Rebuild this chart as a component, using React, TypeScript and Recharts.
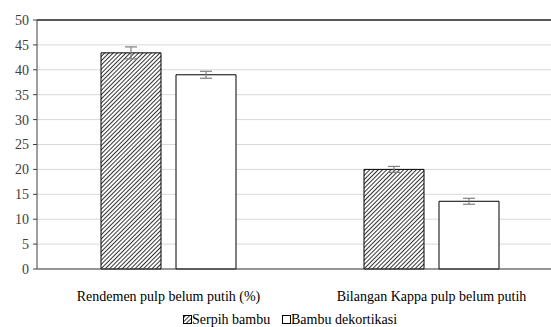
import { BarChart, Bar, XAxis, YAxis, CartesianGrid, ReferenceLine, ErrorBar, Legend } from 'recharts'

const categories = ['Rendemen pulp belum putih (%)', 'Bilangan Kappa pulp belum putih']
const serpihValues = [43.4, 20.0]
const serpihErrors = [1.2, 0.6]
const dekortikasiValues = [39.0, 13.6]
const dekortikasiErrors = [0.7, 0.6]
const yTicks = [0, 5, 10, 15, 20, 25, 30, 35, 40, 45, 50]

const chartData = categories.map((name, i) => ({
  name,
  serpih: serpihValues[i],
  serpihErr: serpihErrors[i],
  dekortikasi: dekortikasiValues[i],
  dekortikasiErr: dekortikasiErrors[i],
}))

const font = 'Liberation Serif, Times New Roman, serif'

// legend drawn as svg text so it uses the same font path as the axis labels
const LegendContent = () => (
  <svg width={563} height={26}>
    <rect x={183.5} y={14.5} width={8} height={8} fill="url(#hatch)" stroke="#000" />
    <text x={192} y={23} fontFamily={font} fontSize={14} fill="#000">Serpih bambu</text>
    <rect x={282.5} y={14.5} width={8} height={8} fill="#fff" stroke="#000" />
    <text x={291} y={23} fontFamily={font} fontSize={14} fill="#000">Bambu dekortikasi</text>
  </svg>
)

export default function App() {
  return (
    <div style={{ position: 'absolute', left: 0, top: 0, width: 551, height: 327, overflow: 'hidden', background: '#fff' }}>
      <BarChart
        width={566}
        height={327}
        data={chartData}
        margin={{ top: 20, right: 3, left: 0, bottom: 0 }}
        barSize={60}
        barGap={15}
      >
        <defs>
          <pattern id="hatch" width={3} height={3} patternUnits="userSpaceOnUse" patternTransform="rotate(45)">
            <rect width={3} height={3} fill="#fff" />
            <line x1={0} y1={0} x2={0} y2={3} stroke="#000" strokeWidth={1.6} />
          </pattern>
        </defs>
        <CartesianGrid vertical={false} stroke="#d9d9d9" strokeWidth={1} />
        <XAxis
          dataKey="name"
          axisLine={{ stroke: '#404040' }}
          tickLine={false}
          tick={{ fill: '#000', fontSize: 14, fontFamily: font }}
          tickMargin={16}
          height={32}
          interval={0}
        />
        <YAxis
          domain={[0, 50]}
          ticks={yTicks}
          width={37}
          axisLine={{ stroke: '#404040' }}
          tickLine={{ stroke: '#404040' }}
          tickSize={4}
          tickMargin={4}
          tick={{ fill: '#404040', fontSize: 14, fontFamily: font }}
        />
        <ReferenceLine y={50} stroke="#262626" strokeWidth={1.3} />
        <Legend verticalAlign="bottom" height={26} content={<LegendContent />} />
        <Bar dataKey="serpih" name="Serpih bambu" fill="url(#hatch)" stroke="#000" strokeWidth={1} isAnimationActive={false}>
          <ErrorBar dataKey="serpihErr" width={6} stroke="#7f7f7f" strokeWidth={1.2} />
        </Bar>
        <Bar dataKey="dekortikasi" name="Bambu dekortikasi" fill="#fff" stroke="#000" strokeWidth={1} isAnimationActive={false}>
          <ErrorBar dataKey="dekortikasiErr" width={6} stroke="#7f7f7f" strokeWidth={1.2} />
        </Bar>
      </BarChart>
    </div>
  )
}
